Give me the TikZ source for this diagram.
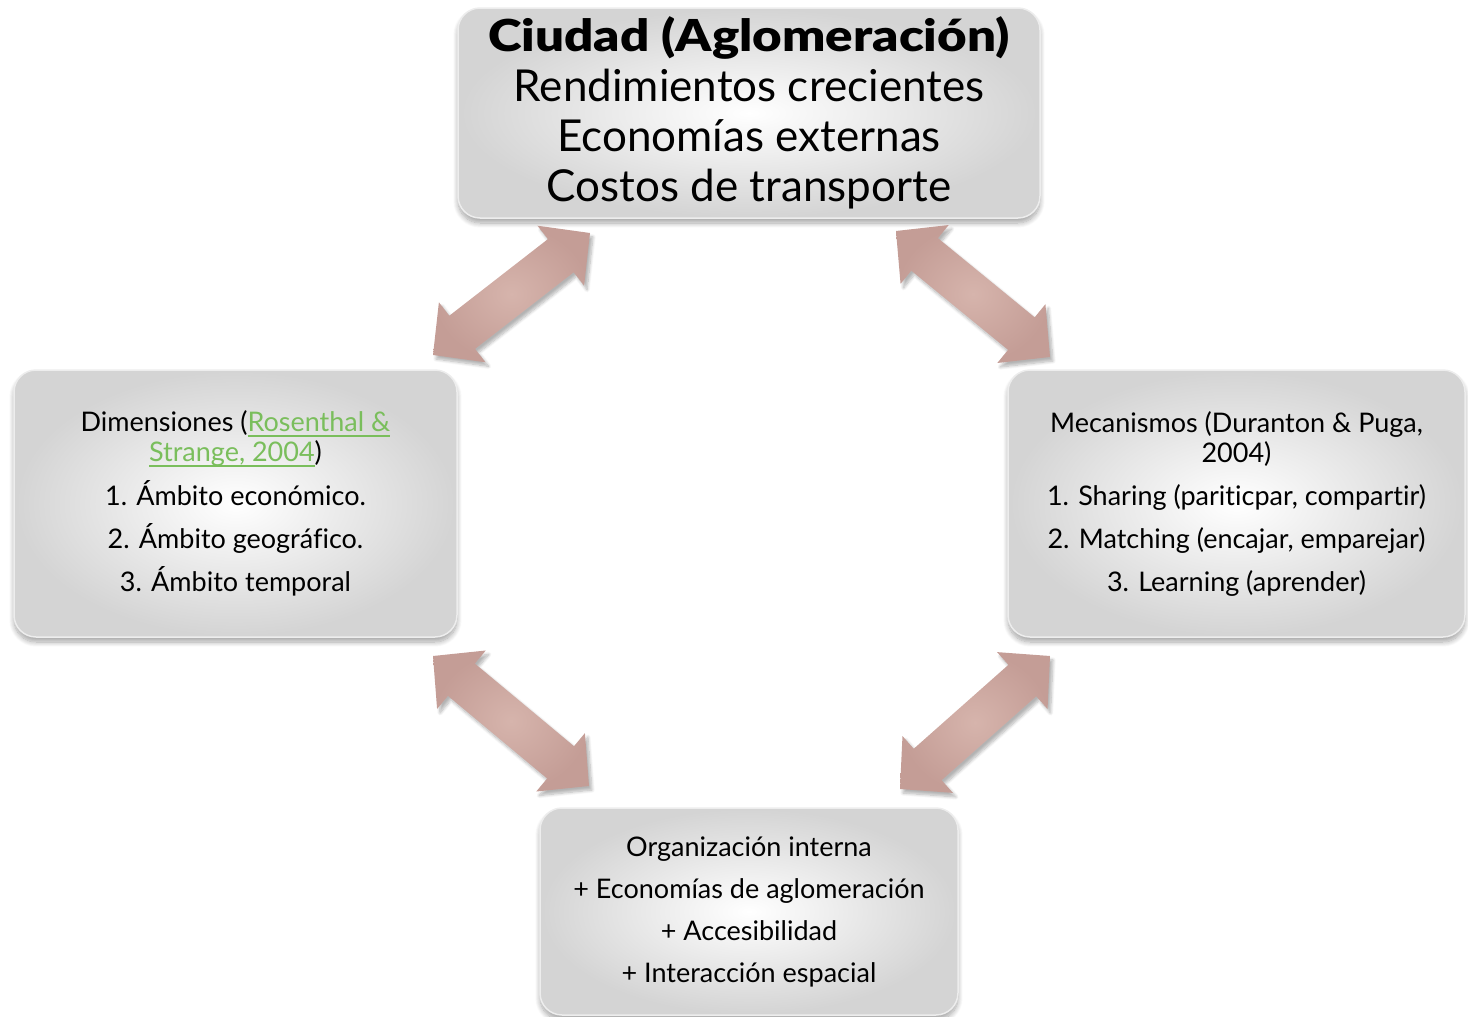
\documentclass[tikz,border=0pt]{standalone}
\usepackage{fontspec}
\setmainfont{Lato}[Ligatures=NoCommon]
\newfontfamily\heavyfont{Lato Black}
\usetikzlibrary{calc,shadows,shadows.blur}
\definecolor{lnk}{RGB}{122,190,92}
\definecolor{arrlight}{RGB}{214,180,172}
\definecolor{arrdark}{RGB}{196,157,150}
\newcommand\arrhl{37pt}
\newcommand\arrhh{38pt}
\newcommand\arrsw{21pt}
\newcommand\lnkul[1]{\setbox0\hbox{#1}\rlap{\rule[-5pt]{\wd0}{1.3pt}}\box0}
\newcommand\dblarrow[2]{%
 \path[blockarrow] (#1)
 -- ($(#1)!\arrhl!(#2)!\arrhh!90:(#2)$)
 -- ($(#1)!\arrhl!(#2)!\arrsw!90:(#2)$)
 -- ($(#2)!\arrhl!(#1)!\arrsw!-90:(#1)$)
 -- ($(#2)!\arrhl!(#1)!\arrhh!-90:(#1)$)
 -- (#2)
 -- ($(#2)!\arrhl!(#1)!\arrhh!90:(#1)$)
 -- ($(#2)!\arrhl!(#1)!\arrsw!90:(#1)$)
 -- ($(#1)!\arrhl!(#2)!\arrsw!-90:(#2)$)
 -- ($(#1)!\arrhl!(#2)!\arrhh!-90:(#2)$)
 -- cycle;}
\begin{document}
\begin{tikzpicture}[x=1pt,y=-1pt,
  box/.style={rounded corners=22pt, shade, inner color=white, outer color=black!17,
    draw=white!93!black, line width=1.5pt, align=center, text=black,
    blur shadow={shadow blur steps=10, shadow xshift=0pt, shadow yshift=-5pt,
      shadow blur radius=5pt, shadow opacity=35}},
  smalltxt/.style={font=\fontsize{27}{30}\selectfont},
  bigtxt/.style={font=\fontsize{44}{50}\selectfont},
  blockarrow/.style={shade, inner color=arrlight, outer color=arrdark,
    blur shadow={shadow blur steps=8, shadow xshift=3pt, shadow yshift=-4pt,
      shadow blur radius=3pt, shadow opacity=30}}]
\useasboundingbox (0,0) rectangle (1468,1017);

\node[box, bigtxt, minimum width=582pt, minimum height=210pt] (top) at (749,113)
  {\scalebox{1.16}[1]{\heavyfont Ciudad (Aglomeración)}\\Rendimientos crecientes\\Economías externas\\Costos de transporte};

\node[box, smalltxt, minimum width=443pt, minimum height=267pt] (left) at (235.5,503.5)
  {Dimensiones ({\color{lnk}\lnkul{Rosenthal \&}}\\{\color{lnk}\lnkul{Strange, 2004}})\\[13pt]
   1. Ámbito económico.\\[13pt]2. Ámbito geográfico.\\[13pt]3. Ámbito temporal};

\node[box, smalltxt, minimum width=457pt, minimum height=267pt] (right) at (1236.5,503.5)
  {Mecanismos (Duranton \& Puga,\\2004)\\[13pt]
   1. Sharing (pariticpar, compartir)\\[13pt]2. Matching (encajar, emparejar)\\[13pt]3. Learning (aprender)};

\node[box, smalltxt, minimum width=418pt, minimum height=207pt] (bottom) at (749,911.5)
  {Organización interna\\[12pt]+ Economías de aglomeración\\[12pt]+ Accesibilidad\\[12pt]+ Interacción espacial};

\coordinate (tl1) at (590,233);
\coordinate (tl2) at (433,355);
\coordinate (tr1) at (896,231);
\coordinate (tr2) at (1050,357);
\coordinate (bl1) at (433,656);
\coordinate (bl2) at (589,786);
\coordinate (br1) at (1050,656);
\coordinate (br2) at (900,789);

\dblarrow{tl1}{tl2}
\dblarrow{tr1}{tr2}
\dblarrow{bl1}{bl2}
\dblarrow{br1}{br2}
\end{tikzpicture}
\end{document}
